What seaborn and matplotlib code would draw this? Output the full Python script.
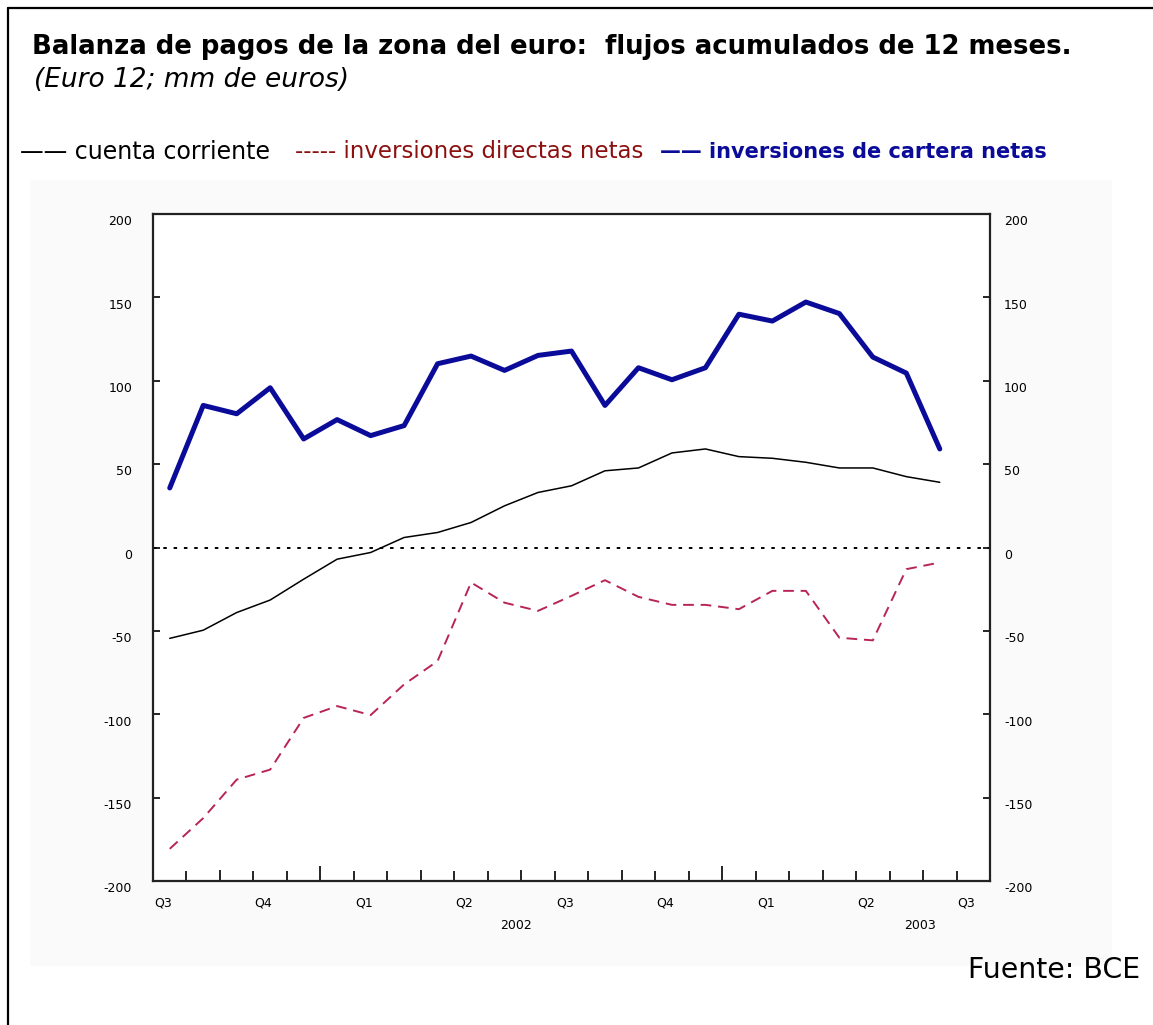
import matplotlib
matplotlib.use('Agg')
import matplotlib.pyplot as plt
import matplotlib.transforms as mtransforms
from matplotlib.lines import Line2D
from matplotlib.patches import Rectangle
import seaborn as sns
import pandas as pd


# Monthly 12-month cumulated flows, Aug 2001 - Jul 2003 (EUR bn)
meses = [m + 0.5 for m in range(24)]
cuenta_corriente = [-54.5, -49.6, -39, -31.5, -19, -7, -3, 6, 9, 15, 25, 33,
                    37, 46, 47.7, 56.7, 59.1, 54.5, 53.5, 51.1, 47.7, 47.7, 42.5, 39.1]
inv_directas = [-180.7, -162.3, -139.2, -133.2, -102.2, -95.1, -100.5, -82.1, -68.1, -21.0, -33.1, -38.0,
                -29.0, -19.6, -29.6, -34.4, -34.4, -37.0, -26.0, -26.0, -54.1, -55.7, -13.0, -9.0]
inv_cartera = [35.7, 85.2, 80.2, 95.8, 65.1, 76.7, 67.1, 73.1, 110.2, 114.8, 106.2, 115.2,
               117.8, 85.2, 107.8, 100.6, 107.8, 139.9, 135.8, 147.2, 140.3, 114.2, 104.6, 59.1]

trimestres = ['Q3', 'Q4', 'Q1', 'Q2', 'Q3', 'Q4', 'Q1', 'Q2', 'Q3']
anios = ['2002', '2003']

df = pd.DataFrame({'mes': meses,
                   'cuenta': cuenta_corriente,
                   'directas': inv_directas,
                   'cartera': inv_cartera})

sns.set_style('white')
plt.rcParams['font.family'] = ['DejaVu Sans']
plt.rcParams['text.color'] = 'black'
plt.rcParams['xtick.color'] = 'black'
plt.rcParams['ytick.color'] = 'black'
plt.rcParams['axes.unicode_minus'] = False

fig = plt.figure(figsize=(11.53, 10.25), dpi=100)
fig.patch.set_facecolor('white')

# light grey panel behind the chart and the page frame
fig.patches.append(Rectangle((30 / 1153, 1 - 966 / 1025), 1082 / 1153, 786 / 1025,
                             transform=fig.transFigure, facecolor='#fafafa', edgecolor='none', zorder=-5))
fig.add_artist(Line2D([8 / 1153, 8 / 1153], [0, 1 - 8 / 1025], color='black', lw=1.6))
fig.add_artist(Line2D([8 / 1153, 1], [1 - 8 / 1025, 1 - 8 / 1025], color='black', lw=1.6))

ax = fig.add_axes([153 / 1153, 1 - 881 / 1025, 837 / 1153, 667 / 1025])
ax.set_facecolor('white')
ax.set_zorder(2)

sns.lineplot(data=df, x='mes', y='cartera', ax=ax, color='#0b0b99', lw=3.6)
sns.lineplot(data=df, x='mes', y='cuenta', ax=ax, color='black', lw=1.1)
sns.lineplot(data=df, x='mes', y='directas', ax=ax, color='#b8245a', lw=1.4)
ax.lines[-1].set_dashes([5.5, 3.5])
ax.axhline(0, color='black', lw=1.4, ls=(0, (1.8, 3.5)))

ax.set_xlim(0, 25)
ax.set_ylim(-200, 200)
ax.set_xlabel('')
ax.set_ylabel('')

for s in ax.spines.values():
    s.set_color('#222222')
    s.set_linewidth(1.6)

# y axis, labels on both sides, drawn a little below their ticks
ax.set_yticks(range(-200, 201, 50))
ax.tick_params(axis='y', direction='in', length=5, width=1.2, labelsize=9,
               left=True, right=True, labelleft=True, labelright=True, pad=10)
off_l = mtransforms.ScaledTranslation(-5 / 72, -4.5 / 72, fig.dpi_scale_trans)
off_r = mtransforms.ScaledTranslation(0, -4.5 / 72, fig.dpi_scale_trans)
for t in ax.yaxis.get_major_ticks():
    t.label1.set_transform(t.label1.get_transform() + off_l)
    t.label2.set_transform(t.label2.get_transform() + off_r)

# x axis: monthly ticks, longer at quarters and years
ax.set_xticks(range(1, 25))
ax.set_xticklabels([])
ax.tick_params(axis='x', which='major', direction='in', length=7, width=1.2, bottom=True)
for i, t in zip(range(1, 25), ax.xaxis.get_major_ticks()):
    if i in (5, 17):
        t.tick1line.set_markersize(15 * 0.72)
    elif i % 3 == 2:
        t.tick1line.set_markersize(11 * 0.72)
ax.set_xticks([0.3 + 3 * k for k in range(len(trimestres))], minor=True)
ax.set_xticklabels(trimestres, minor=True)
ax.tick_params(axis='x', which='minor', length=0, labelsize=9, pad=11)

trans = mtransforms.blended_transform_factory(ax.transData, ax.transAxes)
for xa, lab in zip([10.85, 22.9], anios):
    ax.text(xa, -0.066, lab, transform=trans, ha='center', va='center', fontsize=9)

# titles and legend as text
fig.text(32 / 1153, 1 - 47 / 1025, 'Balanza de pagos de la zona del euro:  flujos acumulados de 12 meses.',
         fontsize=18.7, fontweight='bold', va='center', ha='left')
fig.text(34 / 1153, 1 - 80 / 1025, '(Euro 12; mm de euros)', fontsize=19, style='italic',
         va='center', ha='left')

fig.text(20 / 1153, 1 - 152 / 1025, '—— cuenta corriente', fontsize=17, va='center', ha='left')
fig.text(295 / 1153, 1 - 152 / 1025, '----- inversiones directas netas', fontsize=16.5,
         color='#8b1010', va='center', ha='left')
fig.text(660 / 1153, 1 - 152 / 1025, '—— inversiones de cartera netas', fontsize=15,
         fontweight='bold', color='#0b0b99', va='center', ha='left')

fig.text(1140 / 1153, 1 - 970 / 1025, 'Fuente: BCE', fontsize=20.4, va='center', ha='right')

fig.savefig('out.png', dpi=100)
